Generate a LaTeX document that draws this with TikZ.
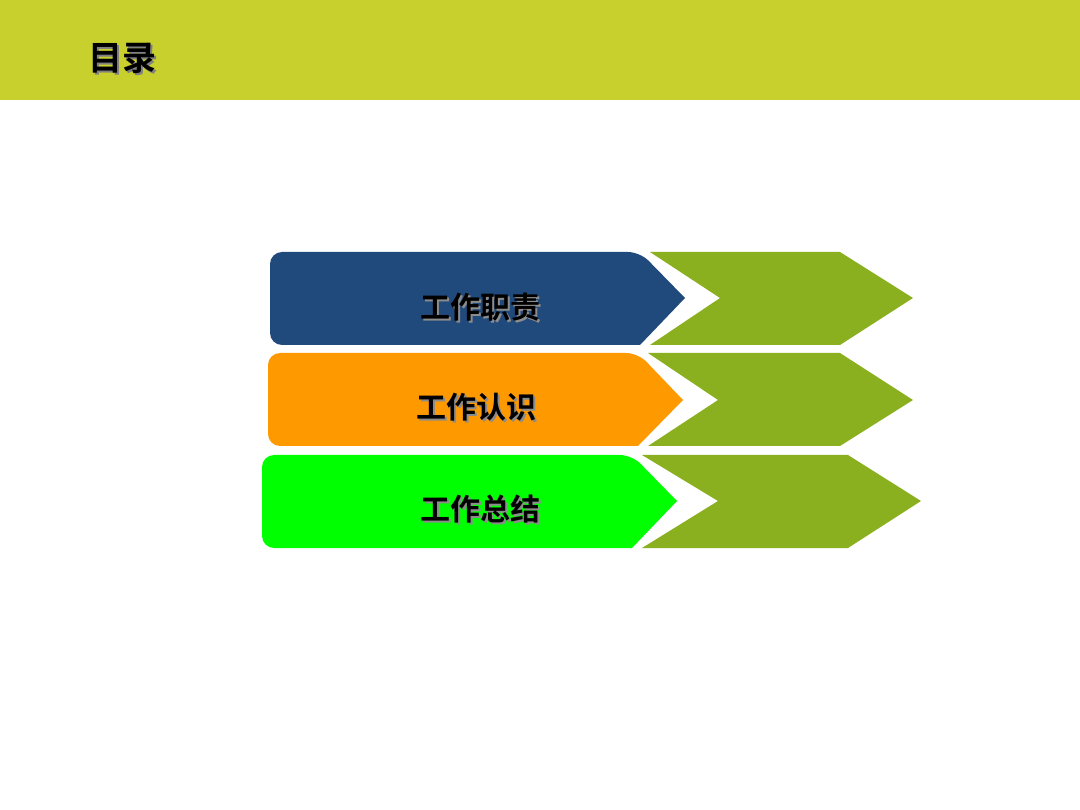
\documentclass[tikz,border=0pt]{standalone}
\usepackage{fontspec}
\newfontfamily\cjk{Noto Sans CJK SC}[BoldFont={* Bold}]
\definecolor{hdr}{HTML}{C8D02E}
\definecolor{cblue}{HTML}{214A7C}
\definecolor{corange}{HTML}{FF9900}
\definecolor{cgreen}{HTML}{00FF00}
\definecolor{chev}{HTML}{8AB020}
\begin{document}
\begin{tikzpicture}[x=1pt,y=-1pt,
  lbl/.style={font=\cjk\bfseries\fontsize{30}{32}\selectfont,text=black},
  shd/.style={font=\cjk\bfseries\fontsize{30}{32}\selectfont,text=black!45}]
\useasboundingbox (0,0) rectangle (1080,810);
\fill[hdr] (0,0) rectangle (1080,100);
\node[font=\cjk\bfseries\fontsize{34}{36}\selectfont,text=black!50] at (124,60) {目录};
\node[font=\cjk\bfseries\fontsize{34}{36}\selectfont] (title) at (122,58) {目录};
% row 1
\fill[cblue,rounded corners=12pt] (640,345) -- (270,345) -- (270,252) -- (640,252) [sharp corners] -- (685,298) -- cycle;
\fill[chev] (650,252) -- (840,252) -- (913,298) -- (840,345) -- (650,345) -- (720,298) -- cycle;
\node[shd] at (482,309) {工作职责};
\node[lbl] (r1) at (480,307) {工作职责};
% row 2
\fill[corange,rounded corners=12pt] (638,446) -- (268,446) -- (268,353) -- (638,353) [sharp corners] -- (683,400) -- cycle;
\fill[chev] (648,353) -- (840,353) -- (913,400) -- (840,446) -- (648,446) -- (718,400) -- cycle;
\node[shd] at (478,409) {工作认识};
\node[lbl] (r2) at (476,407) {工作认识};
% row 3
\fill[cgreen,rounded corners=12pt] (632,548) -- (262,548) -- (262,455) -- (632,455) [sharp corners] -- (677,501) -- cycle;
\fill[chev] (642,455) -- (848,455) -- (921,501) -- (848,548) -- (642,548) -- (718,501) -- cycle;
\node[shd] at (482,511) {工作总结};
\node[lbl] (r3) at (480,509) {工作总结};
\end{tikzpicture}
\end{document}
